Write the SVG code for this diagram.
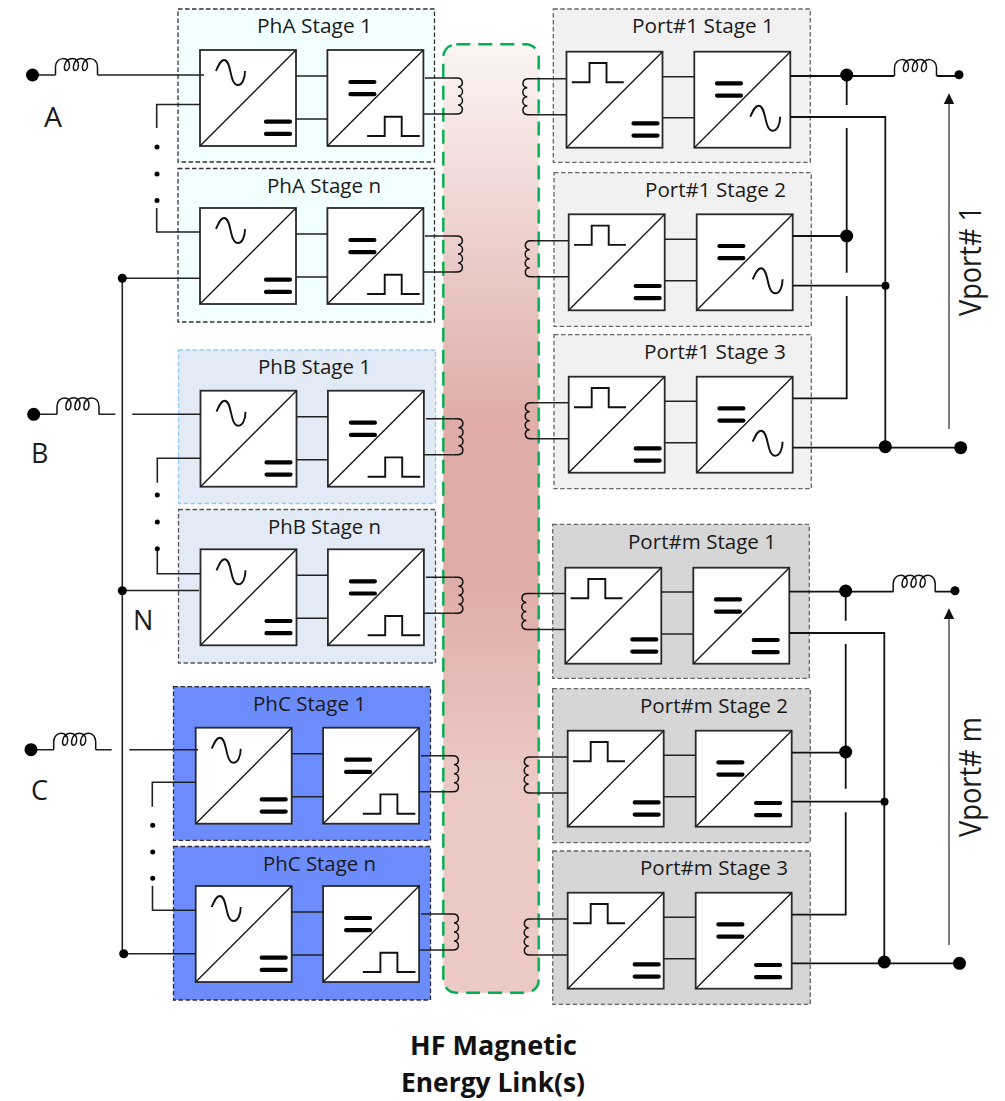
<svg xmlns="http://www.w3.org/2000/svg" xmlns:xlink="http://www.w3.org/1999/xlink" width="1005" height="1101" viewBox="0 0 1005 1101">
<style>
text{font-family:"Open Sans","Noto Sans",sans-serif;fill:#1a1a1a}
.t{font-size:20.5px}
.l{font-size:27px}
.v{font-size:31px}
.b{font-size:26.5px;font-weight:700;text-anchor:middle;fill:#111}
.p{stroke-width:1.3;stroke-dasharray:4.5 2.5}
.pa{fill:#f1ffff;stroke:#333}
.pb{fill:#e2eaf6;stroke:#555}
.pb1{fill:#e2eaf6;stroke:#94c9f2}
.pc{fill:#6d8cfc;stroke:#2b2b3a}
.p1{fill:#f1f1f1;stroke:#666}
.pm{fill:#d6d6d6;stroke:#666}
.box{fill:#fff;stroke:#2a2a2a;stroke-width:1.8}
.dg{fill:none;stroke:#1a1a1a;stroke-width:1.4}
.dc{stroke:#000;stroke-width:4.2;stroke-linecap:round;fill:none}
.ic{fill:none;stroke:#111;stroke-width:1.9}
.w{fill:none;stroke:#222;stroke-width:1.6}
.wb{fill:none;stroke:#111;stroke-width:1.8}
.cl{fill:none;stroke:#111;stroke-width:1.5}
.ar{stroke:#7f7f7f;stroke-width:2;fill:none}
</style>
<defs>
<linearGradient id="hf" x1="0" y1="0" x2="0" y2="1">
<stop offset="0" stop-color="#fbf5f3"/>
<stop offset="0.4" stop-color="#dfaca7"/>
<stop offset="0.56" stop-color="#dfaca7"/>
<stop offset="0.78" stop-color="#ecc9c5"/>
<stop offset="1" stop-color="#ecc9c5"/>
</linearGradient>
<g id="base"><rect class="box" width="96" height="96"/><path class="dg" d="M0,96 L96,0"/></g>
<path id="sine" class="ic" d="M0,12 C3,5 5,1 8,1 C16,1 13,26 22,26 C26,26 29,20 29,12"/>
<g id="dcbars"><path class="dc" d="M1,0 H25 M1,12.2 H25"/></g>
<g id="acdc"><use href="#base"/><use href="#sine" x="16" y="9"/><use href="#dcbars" x="65" y="71.7"/></g>
<g id="dcpulse"><use href="#base"/><use href="#dcbars" x="22" y="32"/><path class="ic" d="M39.7,86 H57.3 V66.7 H74.3 V86 H92.3"/></g>
<g id="pulsedc"><use href="#base"/><path class="ic" d="M5.3,30.6 H23 V11.3 H40 V30.6 H57.3"/><use href="#dcbars" x="66" y="71.7"/></g>
<g id="dcac"><use href="#base"/><use href="#dcbars" x="21.7" y="31.7"/><g transform="translate(56,53) scale(1.03,1)"><use href="#sine"/></g></g>
<g id="dcdc"><use href="#base"/><use href="#dcbars" x="21.7" y="31.7"/><use href="#dcbars" x="59.4" y="72.3"/></g>
<path id="coilL" class="cl" d="M-4,0 H0 C7,0 7,9 1,9 C7,9 7,18 1,18 C7,18 7,27 1,27 C7,27 7,36 0,36 H-4"/>
<path id="coilR" class="cl" d="M4,0 H0 C-7,0 -7,9 -1,9 C-7,9 -7,18 -1,18 C-7,18 -7,27 -1,27 C-7,27 -7,36 0,36 H4"/>
<path id="ind" class="cl" d="M0,0 V-8 C0,-19 15,-19 14,-9 C13,-3 8,-3 9,-9 C10,-19 24,-19 23,-9 C22,-3 17,-3 18,-9 C19,-19 33,-19 32,-9 C31,-3 26,-3 27,-9 C28,-19 42,-19 42,-8 V0"/>
</defs>

<g id="pha-stage-1"><rect class="p pa" x="178" y="9" width="256.5" height="153"/><text class="t" x="257" y="33" textLength="115" lengthAdjust="spacingAndGlyphs">PhA Stage 1</text><use href="#acdc" x="200" y="50"/><use href="#dcpulse" x="327.4" y="50"/></g>
<g id="pha-stage-n"><rect class="p pa" x="178" y="168.5" width="256.5" height="153.5"/><text class="t" x="267" y="193" textLength="114" lengthAdjust="spacingAndGlyphs">PhA Stage n</text><use href="#acdc" x="200" y="208"/><use href="#dcpulse" x="327.4" y="208"/></g>
<g id="phb-stage-1"><rect class="p pb1" x="178.5" y="350" width="257" height="153.5"/><text class="t" x="258" y="374" textLength="113" lengthAdjust="spacingAndGlyphs">PhB Stage 1</text><use href="#acdc" x="200.5" y="390.7"/><use href="#dcpulse" x="327.9" y="390.7"/></g>
<g id="phb-stage-n"><rect class="p pb" x="178.5" y="509.5" width="257" height="153.5"/><text class="t" x="268" y="534" textLength="113" lengthAdjust="spacingAndGlyphs">PhB Stage n</text><use href="#acdc" x="200.5" y="549.3"/><use href="#dcpulse" x="327.9" y="549.3"/></g>
<g id="phc-stage-1"><rect class="p pc" x="173.5" y="686.7" width="257" height="153.6"/><text class="t" x="253" y="711" textLength="113" lengthAdjust="spacingAndGlyphs">PhC Stage 1</text><use href="#acdc" x="195.7" y="727.7"/><use href="#dcpulse" x="323.1" y="727.7"/></g>
<g id="phc-stage-n"><rect class="p pc" x="173.5" y="846.5" width="257" height="153.5"/><text class="t" x="263" y="871" textLength="113" lengthAdjust="spacingAndGlyphs">PhC Stage n</text><use href="#acdc" x="195.7" y="886"/><use href="#dcpulse" x="323.1" y="886"/></g>

<g id="port1-stage-1"><rect class="p p1" x="553.3" y="9" width="257" height="153.3"/><text class="t" x="632" y="33" textLength="142" lengthAdjust="spacingAndGlyphs">Port#1 Stage 1</text><use href="#pulsedc" x="566.5" y="51.7"/><use href="#dcac" x="694.3" y="51.7"/></g>
<g id="port1-stage-2"><rect class="p p1" x="554" y="172.7" width="257.3" height="153.6"/><text class="t" x="645" y="197" textLength="141" lengthAdjust="spacingAndGlyphs">Port#1 Stage 2</text><use href="#pulsedc" x="568.7" y="214.3"/><use href="#dcac" x="696.7" y="214.3"/></g>
<g id="port1-stage-3"><rect class="p p1" x="554" y="334.7" width="257.3" height="154"/><text class="t" x="644" y="359" textLength="142" lengthAdjust="spacingAndGlyphs">Port#1 Stage 3</text><use href="#pulsedc" x="568.7" y="376.7"/><use href="#dcac" x="696.7" y="376.7"/></g>
<g id="portm-stage-1"><rect class="p pm" x="552.7" y="524.3" width="256.6" height="154"/><text class="t" x="628" y="549" textLength="148" lengthAdjust="spacingAndGlyphs">Port#m Stage 1</text><use href="#pulsedc" x="565.3" y="567.7"/><use href="#dcdc" x="693.3" y="567.7"/></g>
<g id="portm-stage-2"><rect class="p pm" x="552.7" y="688.7" width="257.6" height="154"/><text class="t" x="640" y="713" textLength="148" lengthAdjust="spacingAndGlyphs">Port#m Stage 2</text><use href="#pulsedc" x="567.7" y="730.7"/><use href="#dcdc" x="695.7" y="730.7"/></g>
<g id="portm-stage-3"><rect class="p pm" x="552.7" y="851" width="257.6" height="153.3"/><text class="t" x="640" y="875" textLength="148" lengthAdjust="spacingAndGlyphs">Port#m Stage 3</text><use href="#pulsedc" x="567.7" y="892.7"/><use href="#dcdc" x="695.7" y="892.7"/></g>

<g id="hf-link"><rect x="443.3" y="44.3" width="95.4" height="948.4" rx="13" fill="url(#hf)" stroke="#00b050" stroke-width="2.4" stroke-dasharray="14 8"/></g>

<g id="connectors">
<g id="stage-wires" class="w">
<path d="M296,76 H327.4 M296,119 H327.4 M425,78 H453 M423.4,114 H453"/>
<path d="M296,234 H327.4 M296,277 H327.4 M425,236 H453 M423.4,272 H453"/>
<path d="M296.5,416.7 H327.9 M296.5,459.7 H327.9 M425.9,418.7 H453.5 M423.9,454.7 H453.5"/>
<path d="M296.5,575.3 H327.9 M296.5,618.3 H327.9 M425.9,577.3 H453.5 M423.9,613.3 H453.5"/>
<path d="M291.7,753.7 H323.1 M291.7,796.7 H323.1 M421,755.7 H449 M419.1,791.7 H449"/>
<path d="M291.7,912 H323.1 M291.7,955 H323.1 M421,914 H449 M419.1,950 H449"/>
<path d="M532,78.7 H566.3 M532,114.7 H566.3 M662.5,76.7 H694.3 M662.5,117.7 H694.3"/>
<path d="M534.7,240.7 H568.7 M534.7,276.7 H568.7 M664.7,239.3 H696.7 M664.7,280.7 H696.7"/>
<path d="M534.7,402.7 H568.7 M534.7,438.7 H568.7 M664.7,401.3 H696.7 M664.7,442.7 H696.7"/>
<path d="M531,593.5 H565.3 M531,629.5 H565.3 M661.3,592 H693.3 M661.3,634 H693.3"/>
<path d="M533.7,757 H567.7 M533.7,793 H567.7 M663.7,755.3 H695.7 M663.7,796.7 H695.7"/>
<path d="M533.7,919 H567.7 M533.7,955 H567.7 M663.7,917.3 H695.7 M663.7,958.7 H695.7"/>
</g>
<use href="#coilL" x="457" y="78"/><use href="#coilL" x="457" y="236"/><use href="#coilL" x="457.5" y="418.7"/><use href="#coilL" x="457.5" y="577.3"/><use href="#coilL" x="453" y="755.7"/><use href="#coilL" x="453" y="914"/>
<use href="#coilR" x="528.3" y="78.7"/><use href="#coilR" x="530.7" y="240.7"/><use href="#coilR" x="530.7" y="402.7"/><use href="#coilR" x="527.3" y="593.5"/><use href="#coilR" x="529.7" y="757"/><use href="#coilR" x="529.7" y="919"/>

<g id="input-wires" class="w">
<path d="M32.5,75 H55.5 M97.5,75 H204"/>
<path d="M200,104.5 H156.7 V128"/>
<path d="M156.7,208 V232 H200"/>
<path d="M33.7,414.3 H57 M98.7,414.3 H115.3 M132.3,414.3 H200.5"/>
<path d="M200.5,458.3 H157.3 V482.7"/>
<path d="M157.3,548.7 V573.7 H200.5"/>
<path d="M31,749.7 H53.7 M95.7,749.7 H111.7 M129.3,749.7 H198"/>
<path d="M195.7,782.3 H152.3 V806.7"/>
<path d="M152.5,885.7 V910.3 H195.7"/>
<path d="M122.3,278.3 H200 M122.3,590.5 H199 M123.7,953.7 H195.7 M122.3,278.3 V953.7"/>
</g>
<use href="#ind" x="55.5" y="75"/><use href="#ind" x="57" y="414.3"/><use href="#ind" x="53.7" y="749.7"/>

<g id="output-wires" class="wb">
<path d="M790.3,76 H894.3 M936.7,76 H959"/>
<path d="M790.3,117 H885.3 V447.7"/>
<path d="M846.7,75 V105 M846.7,128 V272.7 M846.7,296 V398.3 H792.7"/>
<path d="M792.7,236 H846.7 M792.7,285.7 H885.3 M792.7,447.7 H960.7"/>
<path d="M789.3,591.7 H893.3 M935,591.7 H955"/>
<path d="M789.3,633 H884.3 V963.3"/>
<path d="M845.7,591 V620.7 M845.7,644 V788.7 M845.7,812.3 V914.7 H791.7"/>
<path d="M791.7,752.7 H845.7 M791.7,801.7 H884.3 M791.7,963.3 H959.5"/>
</g>
<use href="#ind" x="894.5" y="76"/><use href="#ind" x="893.2" y="591.7"/>

<path class="ar" d="M949,429 V100"/><path d="M949,93.3 L954.2,104 H943.8 Z" fill="#111"/>
<path class="ar" d="M949,945 V615"/><path d="M949,608.3 L954.2,619 H943.8 Z" fill="#111"/>

<g id="dots" fill="#000">
<circle cx="32.5" cy="75" r="6.5"/><circle cx="33.7" cy="414.3" r="6.5"/><circle cx="31" cy="749.7" r="6.5"/>
<circle cx="157" cy="147" r="2.5"/><circle cx="157" cy="174" r="2.5"/><circle cx="157" cy="200.5" r="2.5"/>
<circle cx="157.3" cy="495" r="2.5"/><circle cx="157.3" cy="522" r="2.5"/><circle cx="157.3" cy="548.7" r="2.5"/>
<circle cx="152.7" cy="825.3" r="2.5"/><circle cx="152.7" cy="852" r="2.5"/><circle cx="152.7" cy="878.3" r="2.5"/>
<circle cx="122.3" cy="278.3" r="4.5"/><circle cx="122.3" cy="590.7" r="4.5"/><circle cx="123.7" cy="953.7" r="4.5"/>
<circle cx="846.7" cy="75" r="6.5"/><circle cx="846.7" cy="236" r="6.5"/><circle cx="885.5" cy="285.7" r="4"/><circle cx="885.3" cy="446.7" r="6.5"/><circle cx="960.7" cy="447.7" r="6.5"/><circle cx="959" cy="74.7" r="4.5"/>
<circle cx="845.7" cy="591" r="6.5"/><circle cx="845.7" cy="752" r="6.5"/><circle cx="884.5" cy="801.7" r="4"/><circle cx="884.3" cy="962" r="6.5"/><circle cx="959.5" cy="963.3" r="6.5"/><circle cx="955" cy="590.7" r="4.5"/>
</g>
</g>

<g id="labels">
<text class="l" x="44" y="127" textLength="18" lengthAdjust="spacingAndGlyphs">A</text>
<text class="l" x="31" y="463">B</text>
<text class="l" x="31" y="800">C</text>
<text class="l" x="133" y="630">N</text>
<text class="v" transform="translate(981,316) rotate(-90)" textLength="110" lengthAdjust="spacingAndGlyphs">Vport# 1</text>
<text class="v" transform="translate(981,837) rotate(-90)" textLength="120" lengthAdjust="spacingAndGlyphs">Vport# m</text>
<text class="b" x="493.5" y="1055" textLength="167" lengthAdjust="spacingAndGlyphs">HF Magnetic</text>
<text class="b" x="493" y="1092" textLength="184" lengthAdjust="spacingAndGlyphs">Energy Link(s)</text>
</g>
</svg>
